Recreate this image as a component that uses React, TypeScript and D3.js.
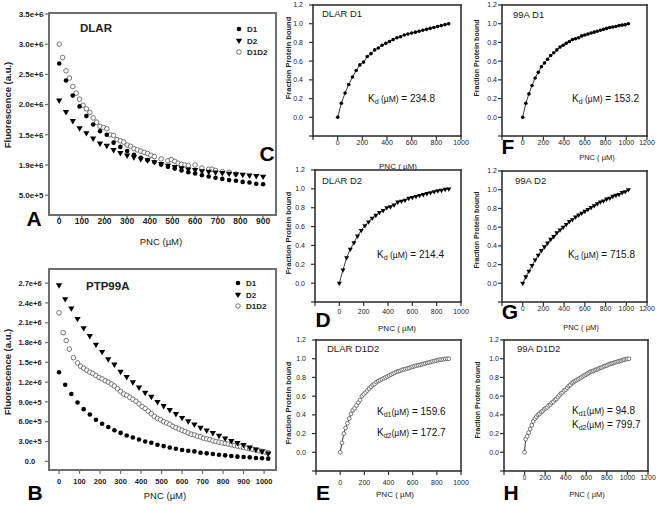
import React from "react";
import * as d3 from "d3";

const FONT = "'Liberation Sans', Arial, sans-serif";

// ---------------- data ----------------
// PNC concentrations (µM)
const pnc900 = [0, 30, 60, 90, 120, 150, 180, 210, 240, 270, 300, 330, 360, 390, 420, 450, 480, 510, 540, 570, 600, 630, 660, 690, 720, 750, 780, 810, 840, 870, 900];
const pnc1020 = [0, 30, 60, 90, 120, 150, 180, 210, 240, 270, 300, 330, 360, 390, 420, 450, 480, 510, 540, 570, 600, 630, 660, 690, 720, 750, 780, 810, 840, 870, 900, 930, 960, 990, 1020];

// Panel A – DLAR fluorescence (x 1e6 a.u.)
const dlarD1 = [2.68, 2.40, 2.15, 1.97, 1.81, 1.67, 1.56, 1.50, 1.37, 1.30, 1.23, 1.17, 1.12, 1.08, 1.05, 1.01, 0.97, 0.94, 0.91, 0.88, 0.86, 0.83, 0.81, 0.79, 0.77, 0.75, 0.74, 0.72, 0.71, 0.69, 0.68];
const dlarD2 = [2.07, 1.88, 1.73, 1.61, 1.53, 1.44, 1.36, 1.32, 1.25, 1.20, 1.16, 1.13, 1.10, 1.08, 1.05, 1.02, 0.99, 0.97, 0.95, 0.93, 0.92, 0.90, 0.89, 0.88, 0.87, 0.86, 0.85, 0.84, 0.83, 0.82, 0.81];
const dlarD1D2: [number, number][] = [
  [0, 3.00], [15, 2.78], [30, 2.56], [45, 2.44], [60, 2.30], [75, 2.19], [90, 2.09], [105, 1.99], [120, 1.93], [135, 1.87],
  [150, 1.78], [165, 1.71], [180, 1.64], [195, 1.62], [210, 1.60], [225, 1.50], [240, 1.49], [255, 1.42], [270, 1.40], [285, 1.38],
  [300, 1.33], [315, 1.31], [330, 1.27], [345, 1.25], [360, 1.23], [375, 1.21], [390, 1.19], [405, 1.16], [420, 1.14], [450, 1.10],
  [480, 1.07], [495, 1.09], [510, 1.06], [525, 1.03], [540, 1.01], [555, 1.00], [570, 0.99], [600, 1.00], [630, 0.95], [660, 0.93],
  [675, 0.93], [690, 0.91], [720, 0.89], [750, 0.88], [780, 0.85],
];

// Panel B – PTP99A fluorescence (x 1e6 a.u.)
const ptpD1 = [1.35, 1.16, 1.02, 0.89, 0.79, 0.71, 0.63, 0.57, 0.52, 0.47, 0.43, 0.39, 0.36, 0.33, 0.30, 0.28, 0.25, 0.23, 0.21, 0.19, 0.17, 0.16, 0.15, 0.13, 0.12, 0.11, 0.10, 0.09, 0.08, 0.07, 0.065, 0.06, 0.05, 0.045, 0.04];
const ptpD2 = [2.67, 2.46, 2.32, 2.16, 2.02, 1.90, 1.77, 1.66, 1.55, 1.47, 1.36, 1.28, 1.20, 1.12, 1.04, 0.98, 0.90, 0.84, 0.78, 0.72, 0.66, 0.61, 0.56, 0.51, 0.47, 0.43, 0.39, 0.35, 0.31, 0.28, 0.25, 0.21, 0.18, 0.15, 0.12];
const ptpD1D2: [number, number][] = [
  [0, 2.25], [20, 1.95], [35, 1.83], [50, 1.70], [70, 1.57], [90, 1.49], [105, 1.44], [120, 1.41], [135, 1.38], [150, 1.35],
  [165, 1.33], [180, 1.30], [195, 1.27], [210, 1.25], [225, 1.22], [240, 1.20], [255, 1.17], [270, 1.14], [285, 1.10], [300, 1.06],
  [315, 1.02], [330, 1.00], [345, 0.97], [360, 0.94], [375, 0.91], [390, 0.87], [405, 0.83], [420, 0.80], [435, 0.76], [450, 0.72],
  [465, 0.68], [480, 0.65], [495, 0.63], [510, 0.60], [525, 0.58], [540, 0.56], [555, 0.53], [570, 0.51], [585, 0.49], [600, 0.47],
  [615, 0.45], [630, 0.43], [645, 0.41], [660, 0.40], [675, 0.38], [690, 0.37], [705, 0.35], [720, 0.34], [735, 0.33], [750, 0.31],
  [765, 0.30], [780, 0.29], [795, 0.28], [810, 0.27], [825, 0.26], [840, 0.25], [855, 0.24], [870, 0.23], [885, 0.22], [900, 0.21],
  [915, 0.20], [930, 0.19], [945, 0.18], [960, 0.17], [975, 0.16], [990, 0.15], [1005, 0.14], [1020, 0.13],
];

// Fraction protein bound
const dlarD1Frac = [0, 0.15, 0.26, 0.35, 0.43, 0.50, 0.56, 0.59, 0.65, 0.68, 0.72, 0.74, 0.77, 0.79, 0.81, 0.83, 0.85, 0.86, 0.88, 0.89, 0.90, 0.91, 0.92, 0.93, 0.94, 0.95, 0.96, 0.97, 0.98, 0.99, 1.0];
const dlarD2Frac = [0, 0.14, 0.27, 0.36, 0.43, 0.50, 0.56, 0.61, 0.65, 0.69, 0.72, 0.75, 0.77, 0.80, 0.81, 0.83, 0.86, 0.87, 0.88, 0.90, 0.91, 0.92, 0.93, 0.94, 0.95, 0.96, 0.97, 0.98, 0.985, 0.995, 1.0];
const dlarD1D2Frac: [number, number][] = [
  [0, 0], [15, 0.10], [30, 0.20], [45, 0.26], [60, 0.31], [75, 0.36], [90, 0.41], [105, 0.45], [120, 0.47], [135, 0.50],
  [150, 0.53], [165, 0.56], [180, 0.60], [195, 0.62], [210, 0.64], [225, 0.66], [240, 0.68], [255, 0.70], [270, 0.72], [285, 0.73],
  [300, 0.75], [315, 0.76], [330, 0.77], [345, 0.78], [360, 0.79], [375, 0.80], [390, 0.81], [405, 0.82], [420, 0.83], [435, 0.84],
  [450, 0.85], [465, 0.86], [480, 0.865], [495, 0.87], [510, 0.88], [525, 0.885], [540, 0.89], [555, 0.895], [570, 0.90], [585, 0.91],
  [600, 0.915], [615, 0.92], [630, 0.925], [645, 0.93], [660, 0.935], [675, 0.94], [690, 0.945], [705, 0.95], [720, 0.955], [735, 0.96],
  [750, 0.965], [765, 0.97], [780, 0.975], [795, 0.98], [810, 0.985], [825, 0.99], [840, 0.99], [855, 0.995], [870, 0.997], [885, 1.0], [900, 1.0],
];
const p99aD1Frac = [0, 0.15, 0.25, 0.34, 0.42, 0.48, 0.54, 0.58, 0.62, 0.66, 0.69, 0.72, 0.75, 0.77, 0.79, 0.81, 0.83, 0.84, 0.85, 0.87, 0.88, 0.89, 0.90, 0.91, 0.92, 0.93, 0.94, 0.95, 0.96, 0.965, 0.97, 0.98, 0.985, 0.99, 1.0];
const p99aD2Frac = [0, 0.07, 0.13, 0.19, 0.25, 0.30, 0.35, 0.39, 0.43, 0.47, 0.50, 0.54, 0.57, 0.60, 0.63, 0.66, 0.68, 0.71, 0.73, 0.75, 0.77, 0.79, 0.81, 0.83, 0.85, 0.87, 0.88, 0.90, 0.91, 0.93, 0.94, 0.95, 0.97, 0.98, 1.0];
const p99aD1D2Frac: [number, number][] = [
  [0, 0], [10, 0.14], [25, 0.17], [40, 0.21], [55, 0.25], [70, 0.29], [85, 0.33], [100, 0.36], [115, 0.38], [130, 0.40],
  [145, 0.41], [160, 0.43], [175, 0.44], [190, 0.46], [205, 0.47], [220, 0.48], [235, 0.50], [250, 0.51], [265, 0.53], [280, 0.54],
  [295, 0.56], [310, 0.57], [325, 0.59], [340, 0.61], [355, 0.63], [370, 0.64], [385, 0.66], [400, 0.67], [415, 0.69], [430, 0.71],
  [445, 0.72], [460, 0.74], [475, 0.75], [490, 0.76], [505, 0.77], [520, 0.78], [535, 0.79], [550, 0.80], [565, 0.81], [580, 0.82],
  [595, 0.83], [610, 0.84], [625, 0.85], [640, 0.86], [655, 0.865], [670, 0.87], [685, 0.88], [700, 0.885], [715, 0.89], [730, 0.90],
  [745, 0.905], [760, 0.91], [775, 0.92], [790, 0.925], [805, 0.93], [820, 0.94], [835, 0.945], [850, 0.95], [865, 0.955], [880, 0.96],
  [895, 0.965], [910, 0.97], [925, 0.975], [940, 0.98], [955, 0.985], [970, 0.99], [985, 0.995], [1000, 0.998], [1015, 1.0],
];

// tick values / labels
const ticksA_y = [3.5, 3.0, 2.5, 2.0, 1.5, 1.0, 0.5];
const labelsA_y = ["3.5e+6", "3.0e+6", "2.5e+6", "2.0e+6", "1.5e+6", "1.9e+6", "5.0e+5"];
const ticksA_x = [0, 100, 200, 300, 400, 500, 600, 700, 800, 900];
const ticksB_y = [0, 0.3, 0.6, 0.9, 1.2, 1.5, 1.8, 2.1, 2.4, 2.7];
const labelsB_y = ["0.0", "3.0e+5", "6.0e+5", "9.0e+5", "1.2e+6", "1.5e+6", "1.8e+6", "2.1e+6", "2.4e+6", "2.7e+6"];
const ticksB_x = [0, 100, 200, 300, 400, 500, 600, 700, 800, 900, 1000];
const ticksFrac_y = [-0.2, 0, 0.2, 0.4, 0.6, 0.8, 1.0, 1.2];
const ticksDLAR_x = [-200, 0, 200, 400, 600, 800, 1000];
const ticks99A_x = [-200, 0, 200, 400, 600, 800, 1000, 1200];
const legendNames = ["D1", "D2", "D1D2"];

type Marker = "dot" | "tri" | "open";
type Series = { pts: [number, number][]; marker: Marker; line?: boolean };

const zip = (xs: number[], ys: number[]): [number, number][] => xs.map((x, i) => [x, ys[i]]);

function Mark({ kind, x, y, small }: { kind: Marker; x: number; y: number; small?: boolean }) {
  if (kind === "dot") return <circle cx={x} cy={y} r={small ? 1.8 : 2.3} fill="#000" />;
  if (kind === "open")
    return <circle cx={x} cy={y} r={small ? 1.9 : 2.3} fill="#fff" stroke="#555" strokeWidth={0.8} />;
  const p = d3.symbol(d3.symbolTriangle, small ? 11 : 17)() || "";
  return <path d={p} transform={`translate(${x},${y}) rotate(180)`} fill="#000" />;
}

interface PanelProps {
  box: [number, number, number, number];
  xDomain: [number, number];
  yDomain: [number, number];
  xTicks: number[];
  xLabelY: number;
  xFont: number;
  xBold?: boolean;
  yTicks: number[];
  yLabels: string[];
  yLabelX: number;
  yAnchor: "start" | "middle" | "end";
  yFont: number;
  yBold?: boolean;
  series: Series[];
  small?: boolean;
  color: string;
  sw: number;
}

function Panel(p: PanelProps) {
  const [x0, y0, x1, y1] = p.box;
  const x = d3.scaleLinear().domain(p.xDomain).range([x0, x1]);
  const y = d3.scaleLinear().domain(p.yDomain).range([y1, y0]);
  const curve = d3.line<[number, number]>().x((d) => x(d[0])).y((d) => y(d[1]));
  const h = p.sw / 2;
  return (
    <g>
      <rect x={x0 - h} y={y0 - h} width={x1 - x0 + p.sw} height={p.sw} fill={p.color} />
      <rect x={x0 - h} y={y1 - h} width={x1 - x0 + p.sw} height={p.sw} fill={p.color} />
      <rect x={x0 - h} y={y0 - h} width={p.sw} height={y1 - y0 + p.sw} fill={p.color} />
      <rect x={x1 - h} y={y0 - h} width={p.sw} height={y1 - y0 + p.sw} fill={p.color} />
      {p.yTicks.map((t, i) => (
        <rect key={"yt" + i} x={x0 - 4} y={y(t) - 0.6} width={4} height={1.2} fill={p.color} />
      ))}
      {p.xTicks.map((t, i) => (
        <rect key={"xt" + i} x={x(t) - 0.6} y={y1} width={1.2} height={4} fill={p.color} />
      ))}
      {p.yTicks.map((t, i) =>
        p.yLabels[i] ? (
          <text key={"y" + i} x={p.yLabelX} y={y(t) + p.yFont * 0.35} fontSize={p.yFont} fontFamily={FONT}
            fontWeight={p.yBold ? "bold" : "normal"} textAnchor={p.yAnchor} fill="#222">
            {p.yLabels[i]}
          </text>
        ) : null
      )}
      {p.xTicks.map((t, i) =>
        t >= 0 ? (
          <text key={"x" + i} x={x(t)} y={p.xLabelY} fontSize={p.xFont} fontFamily={FONT}
            fontWeight={p.xBold ? "bold" : "normal"} textAnchor="middle" fill="#222">
            {t}
          </text>
        ) : null
      )}
      {p.series.map((s, si) => (
        <g key={"s" + si}>
          {s.line ? <path d={curve(s.pts) || ""} fill="none" stroke="#222" strokeWidth={0.9} /> : null}
          {s.pts.map((d, i) => (
            <Mark key={i} kind={s.marker} x={x(d[0])} y={y(d[1])} small={p.small} />
          ))}
        </g>
      ))}
    </g>
  );
}

function Legend({ x, y }: { x: number; y: number }) {
  const kinds: Marker[] = ["dot", "tri", "open"];
  return (
    <g>
      {legendNames.map((n, i) => (
        <g key={n}>
          <Mark kind={kinds[i]} x={x} y={y + i * 11.5} />
          <text x={x + 8} y={y + i * 11.5 + 3} fontSize={8} fontWeight="bold" fontFamily={FONT} fill="#222">{n}</text>
        </g>
      ))}
    </g>
  );
}

function Kd({ x, y, sub, value }: { x: number; y: number; sub: string; value: string }) {
  return (
    <text x={x} y={y} fontSize={10} fontFamily={FONT} fill="#111">
      <tspan>K</tspan>
      <tspan fontSize={7} dy={2}>{sub}</tspan>
      <tspan dy={-2} fontSize={8.5}>{sub.length > 1 ? "(µM)" : "  (µM)"}</tspan>
      <tspan>{"  = " + value}</tspan>
    </text>
  );
}

function BigLetter({ x, y, t }: { x: number; y: number; t: string }) {
  return (
    <text x={x} y={y} fontSize={21} fontWeight="bold" fontFamily={FONT} textAnchor="middle" fill="#000">{t}</text>
  );
}

function AxisText({ x, y, t, rot, size = 9, bold = false }: { x: number; y: number; t: string; rot?: boolean; size?: number; bold?: boolean }) {
  return (
    <text x={x} y={y} fontSize={size} fontWeight={bold ? "bold" : "normal"} fontFamily={FONT} textAnchor="middle" fill="#222"
      transform={rot ? `rotate(-90 ${x} ${y})` : undefined}>{t}</text>
  );
}

const fracProps = {
  yDomain: [-0.2, 1.2] as [number, number],
  yTicks: ticksFrac_y,
  yLabels: ["", "0.0", "0.2", "0.4", "0.6", "0.8", "1.0", "1.2"],
  yAnchor: "end" as const,
  yFont: 7,
  xFont: 7,
  small: true,
  color: "#333333",
  sw: 1.6,
};

export default function App() {
  return (
    <svg width={662} height={506} style={{ position: "absolute", left: 0, top: 0, background: "#fff" }}>
      {/* Panel A */}
      <Panel box={[49, 13, 276, 215]} xDomain={[-45, 957]} yDomain={[0.172, 3.517]} xTicks={ticksA_x} xLabelY={224}
        xFont={8.5} xBold yTicks={ticksA_y} yLabels={labelsA_y} yLabelX={31} yAnchor="middle" yFont={8} yBold color="#6e6e6e" sw={2}
        series={[
          { pts: dlarD1D2, marker: "open" },
          { pts: zip(pnc900, dlarD2), marker: "tri" },
          { pts: zip(pnc900, dlarD1), marker: "dot" },
        ]} />
      <text x={80} y={32} fontSize={11.5} fontWeight="bold" fontFamily={FONT} fill="#222">DLAR</text>
      <Legend x={239} y={29} />
      <AxisText x={161} y={245} t="PNC (µM)" size={9.5} />
      <AxisText x={11} y={105} t="Fluorescence (a.u.)" rot size={9.5} bold />
      <BigLetter x={34} y={226} t="A" />

      {/* Panel B */}
      <Panel box={[49, 269, 276, 470]} xDomain={[-49, 1058]} yDomain={[-0.132, 2.914]} xTicks={ticksB_x} xLabelY={484}
        xFont={7.5} xBold yTicks={ticksB_y} yLabels={labelsB_y} yLabelX={30} yAnchor="middle" yFont={7.5} yBold color="#6e6e6e" sw={2}
        series={[
          { pts: ptpD1D2, marker: "open" },
          { pts: zip(pnc1020, ptpD2), marker: "tri" },
          { pts: zip(pnc1020, ptpD1), marker: "dot" },
        ]} />
      <text x={86} y={290} fontSize={11.5} fontWeight="bold" fontFamily={FONT} fill="#222">PTP99A</text>
      <Legend x={238} y={283} />
      <AxisText x={165} y={499} t="PNC (µM)" size={9.5} />
      <AxisText x={11} y={372} t="Fluorescence (a.u.)" rot size={9.5} bold />
      <BigLetter x={35} y={500} t="B" />

      {/* Panel C */}
      <Panel box={[313, 5, 461, 136]} xDomain={[-200, 1000]} xTicks={ticksDLAR_x} xLabelY={145} yLabelX={303}
        series={[{ pts: zip(pnc900, dlarD1Frac), marker: "dot", line: true }]} {...fracProps} />
      <text x={322} y={17} fontSize={9.5} fontFamily={FONT} fill="#222">DLAR D1</text>
      <Kd x={368} y={102} sub="d" value="234.8" />
      <AxisText x={398} y={169} t="PNC ( µM)" size={8} />
      <AxisText x={291} y={58} t="Fraction Protein bound" rot size={7.5} bold />
      <BigLetter x={267} y={161} t="C" />

      {/* Panel D */}
      <Panel box={[315, 170, 461, 302]} xDomain={[-200, 1000]} xTicks={ticksDLAR_x} xLabelY={314} yLabelX={305}
        series={[{ pts: zip(pnc900, dlarD2Frac), marker: "tri", line: true }]} {...fracProps} />
      <text x={322} y={184} fontSize={9.5} fontFamily={FONT} fill="#222">DLAR D2</text>
      <Kd x={377} y={258} sub="d" value="214.4" />
      <AxisText x={397} y={331} t="PNC ( µM)" size={8} />
      <AxisText x={291} y={233} t="Fraction Protein bound" rot size={7.5} bold />
      <BigLetter x={323} y={327} t="D" />

      {/* Panel E */}
      <Panel box={[316, 340, 461, 471]} xDomain={[-200, 1000]} xTicks={ticksDLAR_x} xLabelY={485} yLabelX={306}
        series={[{ pts: dlarD1D2Frac, marker: "open", line: true }]} {...fracProps} />
      <text x={327} y={352} fontSize={9.5} fontFamily={FONT} fill="#222">DLAR D1D2</text>
      <Kd x={377} y={415} sub="d1" value="159.6" />
      <Kd x={377} y={436} sub="d2" value="172.7" />
      <AxisText x={395} y={497} t="PNC ( µM)" size={8} />
      <AxisText x={291} y={403} t="Fraction Protein bound" rot size={7.5} bold />
      <BigLetter x={323} y={500} t="E" />

      {/* Panel F */}
      <Panel box={[502, 5, 647, 136]} xDomain={[-200, 1200]} xTicks={ticks99A_x} xLabelY={145} yLabelX={497}
        series={[{ pts: zip(pnc1020, p99aD1Frac), marker: "dot", line: true }]} {...fracProps} />
      <text x={513} y={18} fontSize={9.5} fontFamily={FONT} fill="#222">99A D1</text>
      <Kd x={572} y={102} sub="d" value="153.2" />
      <AxisText x={597} y={160} t="PNC ( µM)" size={7.5} />
      <AxisText x={479} y={58} t="Fraction Protein bound" rot size={7} bold />
      <BigLetter x={508} y={154} t="F" />

      {/* Panel G */}
      <Panel box={[502, 171, 647, 302]} xDomain={[-200, 1200]} xTicks={ticks99A_x} xLabelY={311} yLabelX={497}
        series={[{ pts: zip(pnc1020, p99aD2Frac), marker: "tri", line: true }]} {...fracProps} />
      <text x={515} y={184} fontSize={9.5} fontFamily={FONT} fill="#222">99A D2</text>
      <Kd x={568} y={258} sub="d" value="715.8" />
      <AxisText x={581} y={330} t="PNC ( µM)" size={7.5} />
      <AxisText x={479} y={230} t="Fraction Protein bound" rot size={7} bold />
      <BigLetter x={510} y={319} t="G" />

      {/* Panel H */}
      <Panel box={[504, 340, 648, 471]} xDomain={[-200, 1200]} xTicks={ticks99A_x} xLabelY={480} yLabelX={499}
        series={[{ pts: p99aD1D2Frac, marker: "open", line: true }]} {...fracProps} />
      <text x={517} y={352} fontSize={9.5} fontFamily={FONT} fill="#222">99A D1D2</text>
      <Kd x={572} y={414} sub="d1" value="94.8" />
      <Kd x={572} y={428} sub="d2" value="799.7" />
      <AxisText x={587} y={497} t="PNC ( µM)" size={7.5} />
      <AxisText x={480} y={400} t="Fraction Protein bound" rot size={7} bold />
      <BigLetter x={511} y={500} t="H" />
    </svg>
  );
}
